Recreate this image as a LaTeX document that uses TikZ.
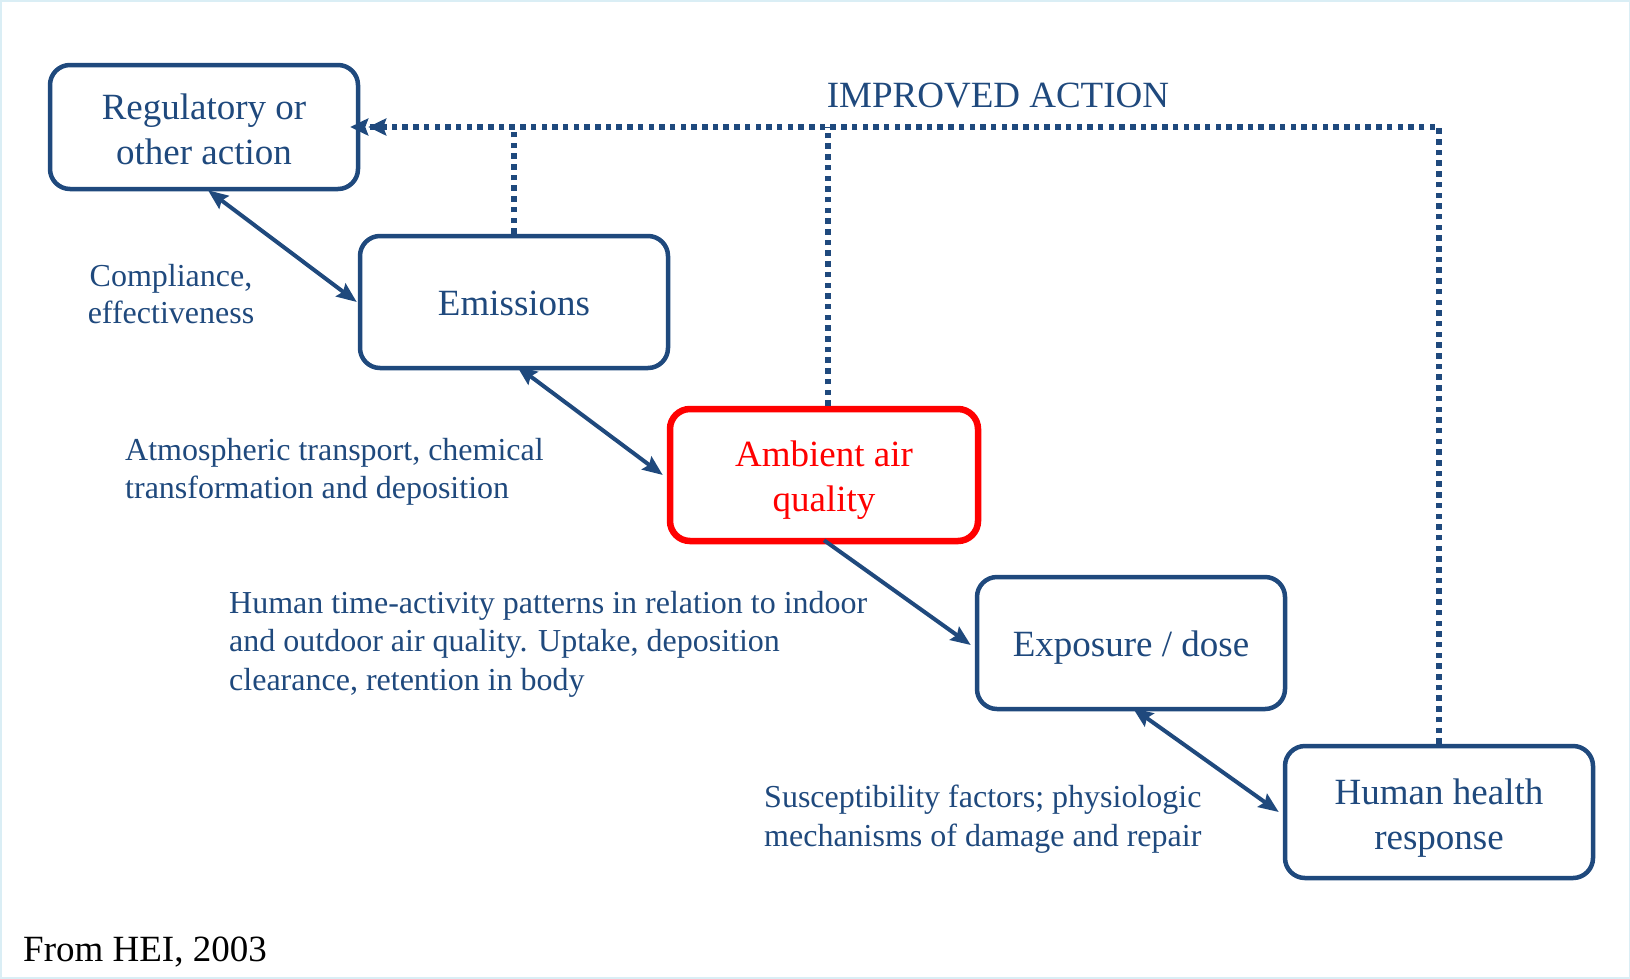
\documentclass[tikz,border=0pt]{standalone}
\usepackage{fontspec}
\setmainfont{Liberation Serif}
\usetikzlibrary{arrows.meta}
\definecolor{dblue}{RGB}{31,73,125}
\definecolor{edge}{RGB}{218,238,245}
\begin{document}
\begin{tikzpicture}[x=1pt,y=-1pt,
  box/.style={draw=dblue,line width=4.5pt,rounded corners=20pt,minimum width=308pt,minimum height=132pt,fill=white},
  redbox/.style={box,draw=red,line width=6.5pt},
  boxtext/.style={align=center,text=dblue,font=\fontsize{37}{45}\selectfont,inner sep=0pt},
  lab/.style={text=dblue,font=\fontsize{32}{38.5}\selectfont,inner sep=0pt},
  conn/.style={draw=dblue,line width=4pt,{Stealth[length=20pt,width=16pt,inset=3pt]}-{Stealth[length=20pt,width=16pt,inset=3pt]}},
  oneway/.style={draw=dblue,line width=4pt,-{Stealth[length=20pt,width=16pt,inset=3pt]}},
  fb/.style={draw=dblue,line width=5.5pt,dash pattern=on 5.5pt off 5.2pt},
  fbarrow/.style={fb,-{Stealth[length=18pt,width=17pt,inset=3pt]Stealth[length=18pt,width=17pt,inset=3pt,sep=-10pt]}}
]
\useasboundingbox (0,0) rectangle (1630,978);
\draw[edge,line width=3pt] (0,0) rectangle (1630,978);

\node[box,minimum height=124pt] (reg) at (204,127) {};
\node[box] (em) at (514,302) {};
\node[redbox] (amb) at (824,475) {};
\node[box] (exp) at (1131,643) {};
\node[box] (hh) at (1439,812) {};

\node[boxtext] (regt) at ([yshift=-2pt]reg.center) {Regulatory or\\other action};
\node[boxtext] (emt) at ([yshift=-1.5pt]em.center) {Emissions};
\node[boxtext,text=red] (ambt) at ([yshift=-5.5pt]amb.center) {Ambient air\\quality};
\node[boxtext] (expt) at ([yshift=-5pt]exp.center) {Exposure / dose};
\node[boxtext] (hht) at ([yshift=-6pt]hh.center) {Human health\\response};

% feedback dotted lines
\draw[fbarrow] (hh.north) |- (reg.east);
\draw[fb] (em.north) -- (em.north |- reg.east);
\draw[fb] ([xshift=4pt]amb.north) -- ([xshift=4pt]amb.north |- reg.east);

% solid connectors
\draw[conn] ([xshift=4pt,yshift=1pt]reg.south) -- ([xshift=-1pt]em.west);
\draw[conn] ([xshift=3pt,yshift=4pt]em.south) -- ([xshift=-4pt]amb.west);
\draw[oneway] ([yshift=4pt]amb.south) -- ([xshift=-4pt,yshift=-2pt]exp.west);
\draw[conn] ([xshift=2pt,yshift=3pt]exp.south) -- ([xshift=-4pt]hh.west);

% labels
\node[lab,font=\fontsize{37}{44}\selectfont] (ia) at (998,96) {IMPROVED ACTION};
\node[lab,align=center,font=\fontsize{32}{37.5}\selectfont] (l1) at (171,294) {Compliance,\\effectiveness};
\node[lab,align=left,anchor=west] (l2) at (125,472) {Atmospheric transport, chemical\\transformation and deposition};
\node[lab,align=left,anchor=west] (l3) at (229,644) {Human time-activity patterns in relation to indoor\\and outdoor air quality. Uptake, deposition\\clearance, retention in body};
\node[lab,align=left,anchor=west] (l4) at (764,819) {Susceptibility factors; physiologic\\mechanisms of damage and repair};
\node[lab,text=black,font=\fontsize{37}{44}\selectfont,anchor=west] (src) at (23,952) {From HEI, 2003};
\end{tikzpicture}
\end{document}
